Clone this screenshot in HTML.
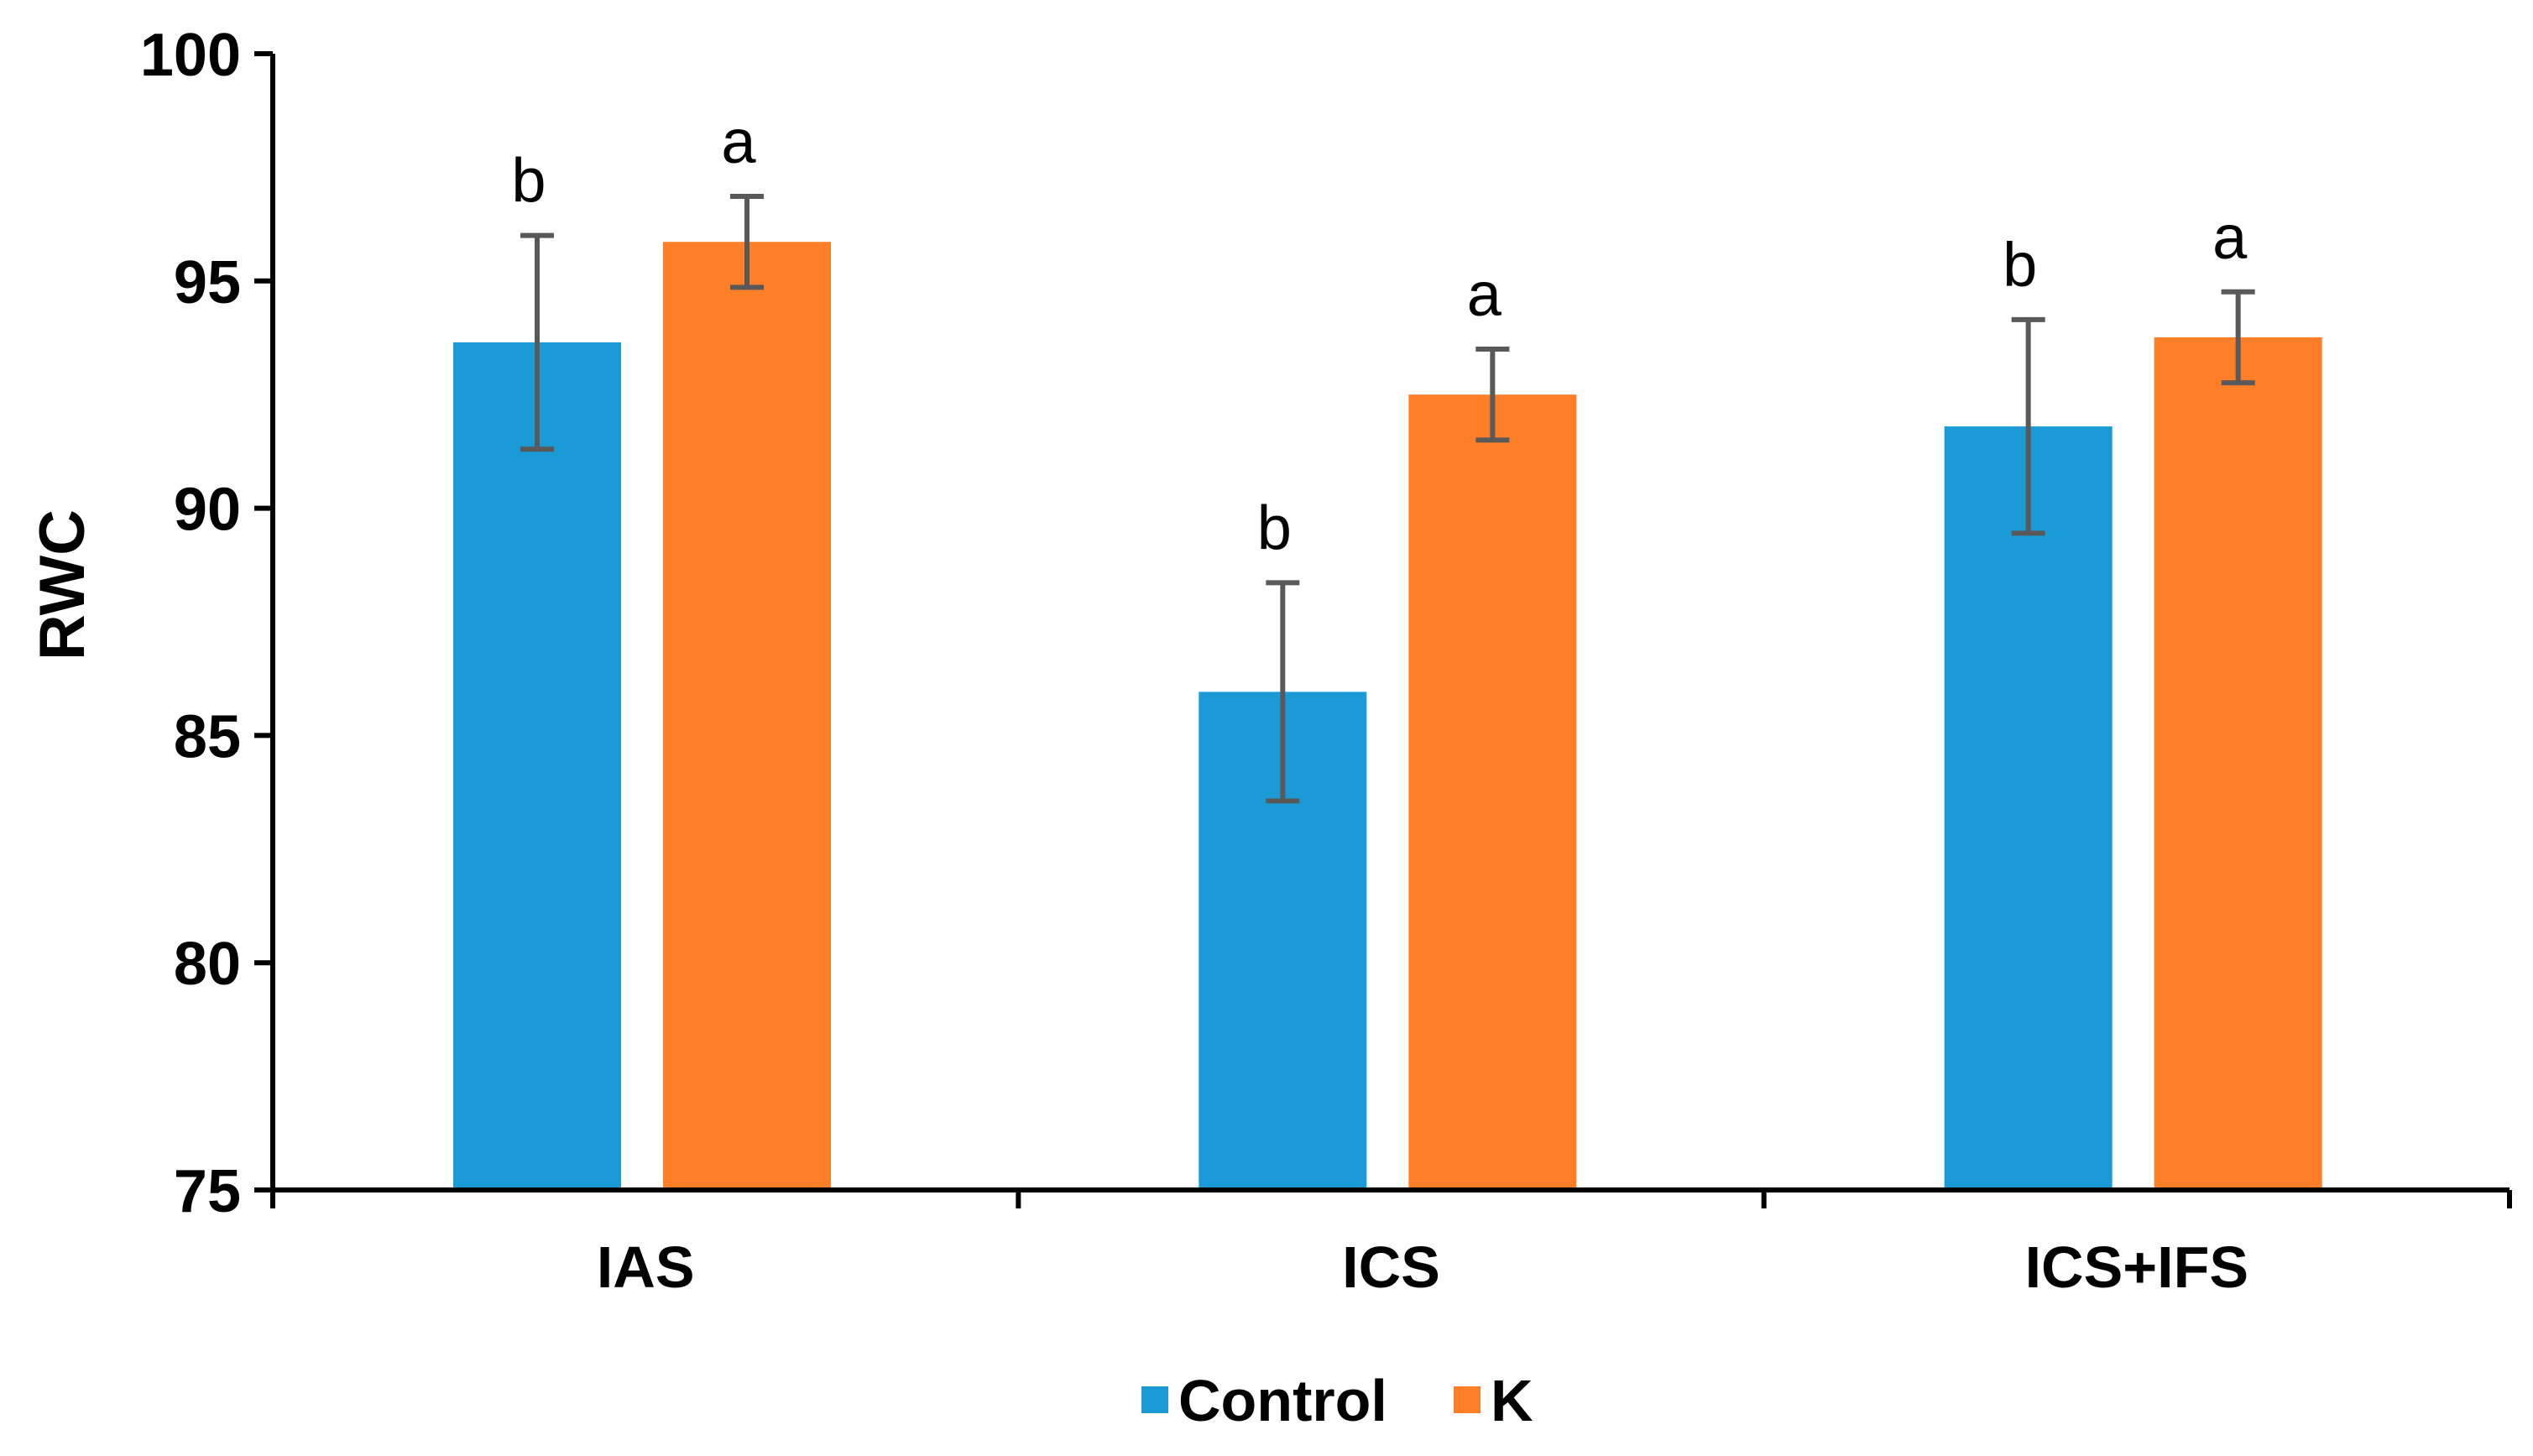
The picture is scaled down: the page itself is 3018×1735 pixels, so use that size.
<!DOCTYPE html>
<html><head><meta charset="utf-8"><style>
html,body{margin:0;padding:0;background:#fff;}
svg{display:block;font-family:"Liberation Sans",Arial,sans-serif;}
</style></head><body>
<svg id="chart" width="3018" height="1735" viewBox="0 0 3018 1735" xmlns="http://www.w3.org/2000/svg">
<g id="bars"></g>
<g id="axes"></g>
<text x="0" y="0" transform="translate(100,697) rotate(-90)" text-anchor="middle" font-size="76" font-weight="bold" fill="#000">RWC</text>
<g>
<g>
<rect x="1360" y="1652" width="32" height="32" fill="#1a9bd7"/>
<text x="1404" y="1693" font-size="70" font-weight="bold" fill="#000">Control</text></g>
<g>
<rect x="1732" y="1652" width="32" height="32" fill="#fe7f27"/>
<text x="1776" y="1693" font-size="70" font-weight="bold" fill="#000">K</text></g>
</g>
</svg>
<script>
const categories = ["IAS", "ICS", "ICS+IFS"];
const controlValues = [93.65, 85.96, 91.8];
const kValues = [95.86, 92.5, 93.76];
const controlErrors = [2.35, 2.4, 2.35];
const kErrors = [1.0, 1.0, 1.0];
const controlLetters = ["b", "b", "b"];
const kLetters = ["a", "a", "a"];
const yTicks = [75, 80, 85, 90, 95, 100];

const NS = "http://www.w3.org/2000/svg";
const X0 = 325, X1 = 2990, Y0 = 1418, Y1 = 64, YMIN = 75, YMAX = 100;
const catW = (X1 - X0) / categories.length;
const barW = 200, barOff = 215, barGap = 50;
function y(v){ return Y0 - (v - YMIN) / (YMAX - YMIN) * (Y0 - Y1); }
function mk(tag, attrs, parent){ const e = document.createElementNS(NS, tag); for (const k in attrs) e.setAttribute(k, attrs[k]); parent.appendChild(e); return e; }
const bars = document.getElementById('bars');
const axes = document.getElementById('axes');
function drawSeries(vals, errs, letters, idx, color, name){
  vals.forEach((v, i) => {
    const bx = X0 + i * catW + barOff + idx * (barW + barGap);
    const r = mk('rect', {x: bx, y: y(v), width: barW, height: Y0 - y(v), fill: color}, bars);
    
    
    const cx = bx + barW / 2;
    const g = mk('g', {stroke: '#595959', 'stroke-width': 6}, bars);
    
    
    mk('line', {x1: cx, x2: cx, y1: y(v + errs[i]), y2: y(v - errs[i])}, g);
    mk('line', {x1: cx - 20, x2: cx + 20, y1: y(v + errs[i]), y2: y(v + errs[i])}, g);
    mk('line', {x1: cx - 20, x2: cx + 20, y1: y(v - errs[i]), y2: y(v - errs[i])}, g);
    const t = mk('text', {x: cx - 10, y: y(v + errs[i]) - 40, 'text-anchor': 'middle', 'font-size': 74, fill: '#000'}, bars);
    
    
    t.textContent = letters[i];
  });
}
drawSeries(controlValues, controlErrors, controlLetters, 0, '#1a9bd7', 'control');
drawSeries(kValues, kErrors, kLetters, 1, '#fe7f27', 'k');
const ya = mk('line', {x1: X0, x2: X0, y1: Y1, y2: Y0 + 22, stroke: '#000', 'stroke-width': 6}, axes);


const xa = mk('line', {x1: X0 - 22, x2: X1, y1: Y0, y2: Y0, stroke: '#000', 'stroke-width': 6}, axes);


yTicks.forEach(v => {
  mk('line', {x1: X0 - 22, x2: X0, y1: y(v), y2: y(v), stroke: '#000', 'stroke-width': 6}, axes);
  const t = mk('text', {x: X0 - 38, y: y(v) + 26, 'text-anchor': 'end', 'font-size': 72, 'font-weight': 'bold', fill: '#000', 'font-family': '"Liberation Sans Narrow","Liberation Sans",sans-serif'}, axes);
  
  
  t.textContent = v;
});
for (let i = 0; i <= categories.length; i++) {
  mk('line', {x1: X0 + i * catW, x2: X0 + i * catW, y1: Y0, y2: Y0 + 22, stroke: '#000', 'stroke-width': 6}, axes);
}
categories.forEach((c, i) => {
  const t = mk('text', {x: X0 + (i + 0.5) * catW, y: 1534, 'text-anchor': 'middle', 'font-size': 70, 'font-weight': 'bold', fill: '#000'}, axes);
  
  
  t.textContent = c;
});
</script>
</body></html>
